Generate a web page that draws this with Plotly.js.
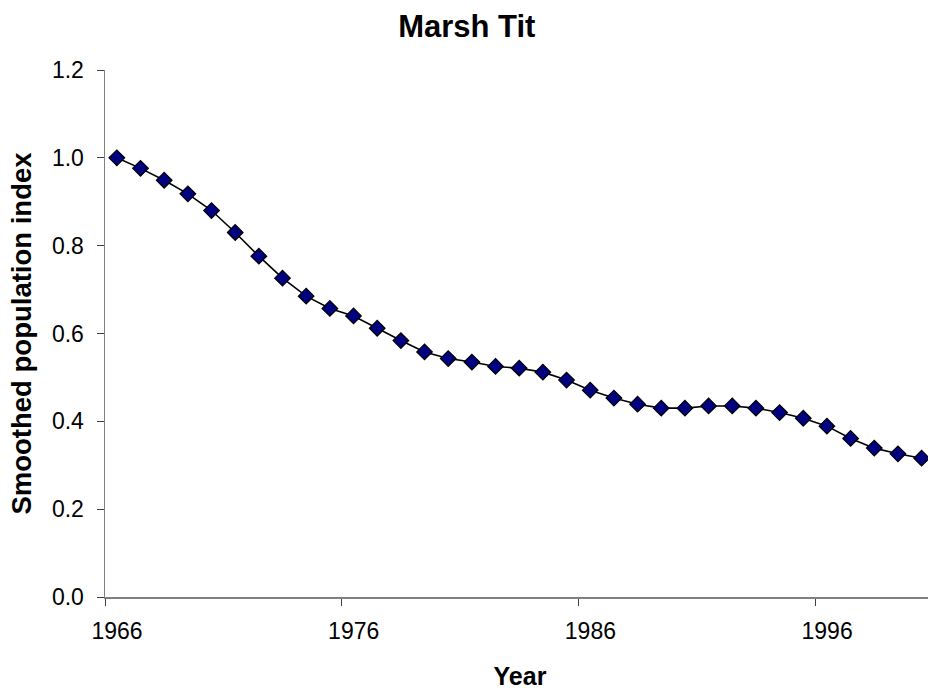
<!DOCTYPE html>
<html>
<head>
<meta charset="utf-8">
<script src="https://cdn.plot.ly/plotly-3.0.1.min.js"></script>
<style>html,body{margin:0;padding:0;background:#fff;}#chart{width:928px;height:697px;}</style>
</head>
<body>
<div id="chart"></div>
<script>
var years = [1966,1967,1968,1969,1970,1971,1972,1973,1974,1975,1976,1977,1978,1979,1980,1981,1982,1983,1984,1985,1986,1987,1988,1989,1990,1991,1992,1993,1994,1995,1996,1997,1998,1999,2000];
var index = [1.000,0.976,0.949,0.918,0.880,0.830,0.776,0.726,0.685,0.657,0.640,0.612,0.584,0.558,0.543,0.535,0.525,0.521,0.512,0.494,0.471,0.453,0.439,0.430,0.430,0.435,0.435,0.430,0.420,0.407,0.389,0.361,0.339,0.326,0.316];
var xTickVals = [1965.5,1975.5,1985.5,1995.5];
var xTickText = ['1966','1976','1986','1996'];
var yTickVals = [0,0.2,0.4,0.6,0.8,1.0,1.2];

var trace = {
  x: years, y: index, type: 'scatter', mode: 'lines+markers',
  line: {color: '#000000', width: 1.6},
  marker: {symbol: 'diamond', size: 12, color: '#000080', line: {color: '#000000', width: 1.2}},
  cliponaxis: false,
  hoverinfo: 'x+y'
};
var fam = 'Liberation Sans, Arial, sans-serif';
var layout = {
  width: 928, height: 697,
  margin: {l: 105, r: 0, t: 70, b: 100},
  paper_bgcolor: '#fff', plot_bgcolor: '#fff',
  showlegend: false,
  font: {family: fam, size: 23, color: '#000'},
  title: {text: '<b>Marsh Tit</b>', font: {family: fam, size: 31, color: '#000'}, x: 0.503, xref: 'container', xanchor: 'center', y: 0.962, yref: 'container', yanchor: 'middle'},
  xaxis: {
    range: [1965.5, 2000.27], tickmode: 'array', tickvals: xTickVals, ticktext: xTickText,
    ticklabelshift: 12, ticklabelstandoff: 6,
    showgrid: false, zeroline: false, showline: true, linecolor: '#808080', linewidth: 1.5,
    ticks: 'outside', ticklen: 7, tickcolor: '#404040', tickwidth: 1,
    tickfont: {family: fam, size: 23, color: '#000'},
    title: {text: '&nbsp;<b>Year</b>', font: {family: fam, size: 25, color: '#000'}, standoff: 24}
  },
  yaxis: {
    range: [0, 1.2], tickmode: 'array', tickvals: yTickVals, tickformat: '.1f',
    ticklabelstandoff: 8,
    showgrid: false, zeroline: false, showline: true, linecolor: '#808080', linewidth: 1.5,
    ticks: 'outside', ticklen: 7, tickcolor: '#404040', tickwidth: 1,
    tickfont: {family: fam, size: 23, color: '#000'},
    title: {text: '<b>Smoothed population index</b>', font: {family: fam, size: 27.5, color: '#000'}, standoff: 12}
  }
};
Plotly.newPlot('chart', [trace], layout, {displayModeBar: false, staticPlot: true});
</script>
</body>
</html>
